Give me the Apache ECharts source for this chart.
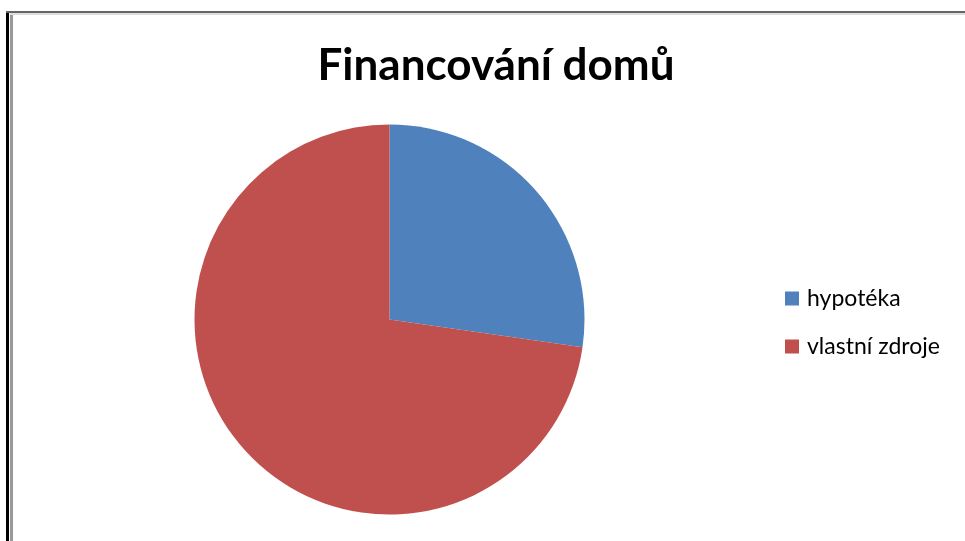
<!DOCTYPE html>
<html>
<head>
<meta charset="utf-8">
<script src="https://cdn.jsdelivr.net/npm/echarts@6/dist/echarts.min.js"></script>
<style>
  html, body { margin: 0; padding: 0; background: #fff; }
  #chart { width: 965px; height: 541px; }
</style>
</head>
<body>
<div id="chart"></div>
<script>
  // data
  var titleText = 'Financování domů';
  var categories = ['hypotéka', 'vlastní zdroje'];
  var values = [3, 8];
  var colors = ['#4F81BD', '#C0504D'];

  var chart = echarts.init(document.getElementById('chart'));

  var pieData = categories.map(function (name, i) {
    return { name: name, value: values[i], itemStyle: { color: colors[i] } };
  });

  chart.setOption({
    backgroundColor: '#fff',
    animation: false,
    title: {
      text: titleText,
      left: 491,
      top: 39,
      textAlign: 'center',
      textStyle: { fontFamily: 'Lato', fontWeight: 'bold', fontSize: 44, color: '#000' }
    },
    legend: {
      orient: 'vertical',
      left: 780,
      top: 282,
      itemWidth: 14,
      itemHeight: 14,
      itemGap: 25,
      icon: 'rect',
      data: categories,
      textStyle: { fontFamily: 'Lato', fontSize: 23, color: '#000', padding: [0, 0, 0, 3] }
    },
    graphic: [
      // frame lines round the chart area
      { type: 'rect', shape: { x: 6, y: 11, width: 3, height: 530 }, style: { fill: '#000' } },
      { type: 'rect', shape: { x: 10, y: 12, width: 3, height: 529 }, style: { fill: '#999' } },
      { type: 'rect', shape: { x: 6, y: 11, width: 959, height: 2 }, style: { fill: '#666' } },
      { type: 'rect', shape: { x: 10, y: 13, width: 955, height: 2 }, style: { fill: '#ddd' } }
    ],
    series: [
      {
        type: 'pie',
        center: [389.5, 319.5],
        radius: 195,
        startAngle: 90,
        clockwise: true,
        label: { show: false },
        labelLine: { show: false },
        emphasis: { disabled: true },
        itemStyle: { borderWidth: 0 },
        data: pieData
      }
    ]
  });
</script>
</body>
</html>
